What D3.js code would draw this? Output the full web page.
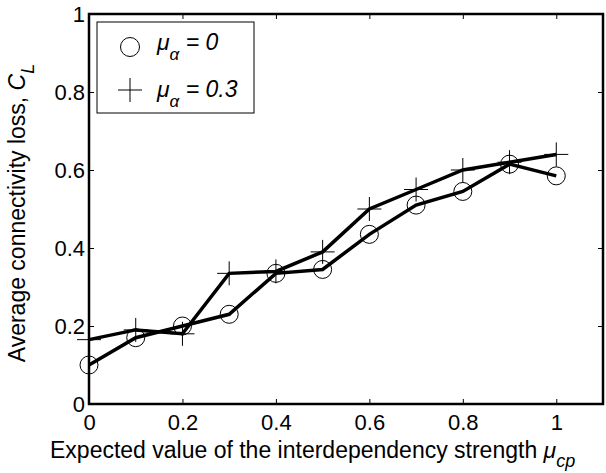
<!DOCTYPE html>
<html><head><meta charset="utf-8">
<script src="https://cdn.jsdelivr.net/npm/d3@7"></script>
<style>body{margin:0;background:#fff}text{font-family:Arial,"Liberation Sans",sans-serif;fill:#000}</style>
</head><body>
<svg id="c" width="606" height="473"></svg>
<script>
var xs = [0, 0.1, 0.2, 0.3, 0.4, 0.5, 0.6, 0.7, 0.8, 0.9, 1.0];
var lossA0 = [0.10, 0.17, 0.20, 0.23, 0.335, 0.345, 0.435, 0.51, 0.545, 0.615, 0.585];
var lossA03 = [0.165, 0.19, 0.18, 0.335, 0.34, 0.39, 0.50, 0.55, 0.60, 0.62, 0.64];
var xTicks = [0, 0.2, 0.4, 0.6, 0.8, 1];
var yTicks = [0, 0.2, 0.4, 0.6, 0.8, 1];

var L = 89, R = 603, T = 14, B = 404;
var svg = d3.select("#c");
var x = d3.scaleLinear().domain([0, 1.1]).range([L, R]);
var y = d3.scaleLinear().domain([0, 1]).range([B, T]);

// ticks inward on all four sides
svg.append("g").attr("transform", "translate(0," + B + ")")
    .call(d3.axisBottom(x).tickValues(xTicks).tickSize(-5).tickPadding(10).tickFormat(d3.format("")));
svg.append("g").attr("transform", "translate(" + L + ",0)")
    .call(d3.axisLeft(y).tickValues(yTicks).tickSize(-5).tickPadding(4).tickFormat(d3.format("")));
svg.append("g").attr("transform", "translate(0," + T + ")")
    .call(d3.axisTop(x).tickValues(xTicks).tickSize(-5).tickFormat(""));
svg.append("g").attr("transform", "translate(" + R + ",0)")
    .call(d3.axisRight(y).tickValues(yTicks).tickSize(-5).tickFormat(""));
svg.selectAll(".domain").remove();
svg.selectAll(".tick text").style("font-size", "22px").style("font-family", "Arial, 'Liberation Sans', sans-serif");
svg.selectAll(".tick line").attr("stroke", "#000");
svg.append("rect").attr("x", L).attr("y", T).attr("width", R - L).attr("height", B - T)
    .attr("fill", "none").attr("stroke", "#000").attr("stroke-width", 2.5);

var line = d3.line().x(function(d, i) { return x(xs[i]); }).y(function(d) { return y(d); });
[lossA0, lossA03].forEach(function(s) {
    svg.append("path").datum(s).attr("d", line).attr("fill", "none")
        .attr("stroke", "#000").attr("stroke-width", 3.5);
});
svg.selectAll(".circ").data(lossA0).enter().append("circle")
    .attr("cx", function(d, i) { return x(xs[i]); }).attr("cy", function(d) { return y(d); })
    .attr("r", 9).attr("fill", "none").attr("stroke", "#000").attr("stroke-width", 1);
function plus(g, cx, cy) {
    g.append("path").attr("d", "M" + (cx - 12) + "," + cy + "H" + (cx + 12) + "M" + cx + "," + (cy - 12) + "V" + (cy + 12))
        .attr("stroke", "#000").attr("stroke-width", 1);
}
lossA03.forEach(function(d, i) { plus(svg, x(xs[i]), y(d)); });

// legend
var lg = svg.append("g");
lg.append("rect").attr("x", 97).attr("y", 22).attr("width", 157).attr("height", 91)
    .attr("fill", "#fff").attr("stroke", "#000").attr("stroke-width", 1);
lg.append("circle").attr("cx", 130).attr("cy", 47).attr("r", 9.5).attr("fill", "none").attr("stroke", "#000");
plus(lg, 130, 90);
function entry(ty, val) {
    var t = lg.append("text").attr("x", 157).attr("y", ty).style("font-size", "23px").style("font-style", "italic");
    t.append("tspan").text("\u03bc");
    t.append("tspan").attr("dy", 10).style("font-size", "17px").text("\u03b1");
    t.append("tspan").attr("dy", -10).text(" = " + val);
}
entry(50, "0");
entry(97, "0.3");

// white band clipping the x tick labels, as in the reference
svg.append("rect").attr("x", 0).attr("y", 431).attr("width", 606).attr("height", 42).attr("fill", "#fff");

// axis labels
var xl = svg.append("text").attr("x", 50).attr("y", 458).style("font-size", "23px");
xl.append("tspan").text("Expected  value of the interdependency strength ");
xl.append("tspan").style("font-style", "italic").text("\u03bc");
xl.append("tspan").attr("dy", 9).style("font-size", "18px").style("font-style", "italic").text("cp");
var yl = svg.append("text").attr("transform", "translate(25,213) rotate(-90)").attr("text-anchor", "middle").style("font-size", "23px");
yl.append("tspan").text("Average connectivity loss,  ");
yl.append("tspan").style("font-style", "italic").text("C");
yl.append("tspan").attr("dy", 9).style("font-size", "18px").style("font-style", "italic").text("L");
</script>
</body></html>
